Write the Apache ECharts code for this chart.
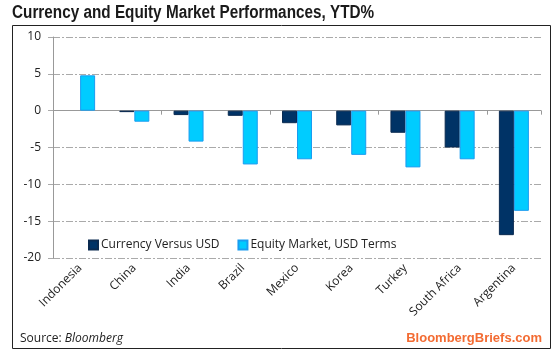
<!DOCTYPE html>
<html><head><meta charset="utf-8">
<script src="https://cdn.jsdelivr.net/npm/echarts@6/dist/echarts.min.js"></script>
<style>html,body{margin:0;padding:0;background:#fff}#c{width:560px;height:355px}</style>
</head><body><div id="c"></div>
<script>
const categories = ['Indonesia','China','India','Brazil','Mexico','Korea','Turkey','South Africa','Argentina'];
const currency = [0, -0.2, -0.6, -0.7, -1.7, -2.0, -3.0, -5.0, -16.9];
const equity = [4.8, -1.5, -4.2, -7.3, -6.6, -6.0, -7.7, -6.6, -13.6];
const seriesNames = ['Currency Versus USD', 'Equity Market, USD Terms'];
const yTicks = {min: -20, max: 10, interval: 5};
const titleText = 'Currency and Equity Market Performances, YTD%';

const chart = echarts.init(document.getElementById('c'), null, {renderer: 'canvas'});
const font = "'Open Sans', 'Noto Sans', sans-serif";
const dash = [7, 2, 2, 2];
chart.setOption({
  animation: false,
  backgroundColor: '#fff',
  legend: {
    data: seriesNames, left: 83, top: 234, itemWidth: 9, itemHeight: 9, itemGap: 18,
    icon: 'rect',
    textStyle: {fontFamily: font, fontSize: 12, color: '#222', padding: [0, 0, 0, -2]}
  },
  grid: {left: 53, right: 19, top: 37, bottom: 97, containLabel: false},
  xAxis: [
    {type: 'category', data: categories, position: 'bottom',
     axisLine: {onZero: true, lineStyle: {color: '#999', width: 1}},
     axisTick: {show: true, length: 4, lineStyle: {color: '#999'}},
     axisLabel: {show: false}, splitLine: {show: false}},
    {type: 'category', data: categories, position: 'bottom', offset: 0,
     axisLine: {show: false, onZero: false}, axisTick: {show: false},
     axisLabel: {show: true, rotate: 45, margin: 8, fontFamily: font, fontSize: 12, color: '#222', interval: 0},
     splitLine: {show: false}}
  ],
  yAxis: {
    type: 'value', min: yTicks.min, max: yTicks.max, interval: yTicks.interval,
    axisLine: {show: true, lineStyle: {color: '#999'}},
    axisTick: {show: true, length: 5, lineStyle: {color: '#aaa'}},
    axisLabel: {fontFamily: font, fontSize: 12, color: '#222', margin: 12},
    splitLine: {show: true, lineStyle: {color: '#aaa', type: dash, width: 1}}
  },
  series: [
    {name: seriesNames[0], type: 'bar', barWidth: 15, barGap: '0%',
     data: currency.map(v => v === 0 ? {value: v, itemStyle: {borderWidth: 0}} : v),
     itemStyle: {color: '#003366', borderColor: '#0a2a50', borderWidth: 1}},
    {name: seriesNames[1], type: 'bar', data: equity, barWidth: 15,
     itemStyle: {color: '#00ccff', borderColor: '#1a9cf0', borderWidth: 1}}
  ],
  graphic: [
    {type: 'text', x: 12, y: 4, scaleX: 0.85, style: {
      text: titleText, fontFamily: "'Liberation Sans', Arial, sans-serif", fontWeight: 'bold', fontSize: 18, fill: '#1a1a1a'
    }},
    {type: 'rect', shape: {x: 12.5, y: 25.5, width: 538, height: 323}, style: {fill: 'none', stroke: '#222', lineWidth: 1}, silent: true, z: 100},
    {type: 'text', left: 20, top: 333, style: {
      text: '{n|Source: }{i|Bloomberg}',
      rich: {n: {fontFamily: font, fontSize: 12, fill: '#222'}, i: {fontFamily: font, fontSize: 12, fontStyle: 'italic', fill: '#222'}}
    }},
    {type: 'text', right: 18, top: 332, style: {
      text: 'BloombergBriefs.com', fontFamily: "'Liberation Sans', Arial, sans-serif", fontWeight: 'bold', fontSize: 13, fill: '#f36b32'
    }}
  ]
});
</script></body></html>
